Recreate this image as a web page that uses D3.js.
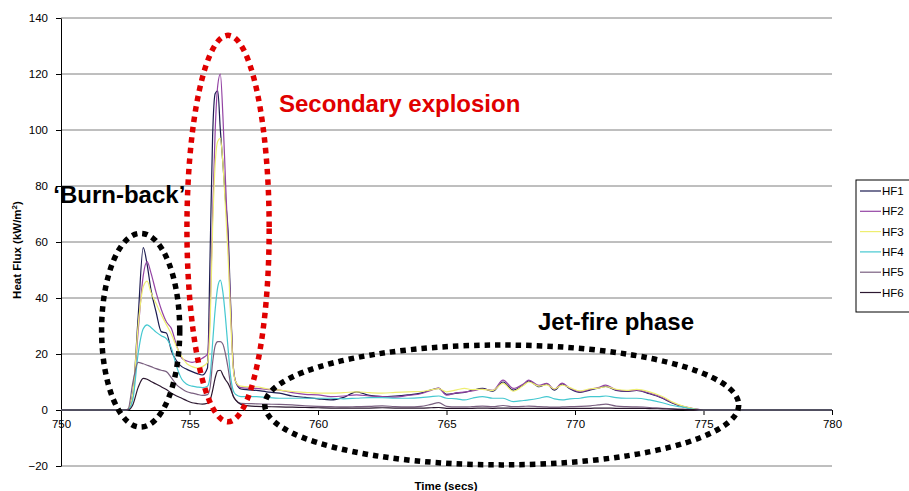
<!DOCTYPE html>
<html>
<head>
<meta charset="utf-8">
<script src="https://cdn.jsdelivr.net/npm/d3@7"></script>
<style>
  body { margin: 0; background: #fff; }
  svg { display: block; font-family: "Liberation Sans", Arial, sans-serif; }
  .axis text { font-size: 11.5px; fill: #000; }
  .axis path, .axis line { stroke: #000; }
</style>
</head>
<body>
<svg id="chart" width="909" height="491"></svg>
<script>
// time (secs)
const times = [750, 752.4, 752.6, 752.8, 753.0, 753.2, 753.35, 753.5, 753.7, 753.9,
  754.1, 754.3, 754.5, 754.7, 754.9, 755.1, 755.3, 755.5, 755.7, 755.8,
  755.9, 756.0, 756.1, 756.2, 756.3, 756.4, 756.5, 756.6, 756.7, 756.8, 757.0,
  757.3, 757.6, 758.0, 758.5, 759.0, 759.5, 760.0, 760.5, 761.0, 761.5,
  762.0, 762.5, 763.0, 763.5, 764.0, 764.4, 764.7, 765.0, 765.4, 765.7,
  766.0, 766.4, 766.8, 767.2, 767.6, 768.0, 768.2, 768.6, 768.9, 769.2,
  769.5, 769.8, 770.2, 770.6, 770.9, 771.2, 771.6, 772.0, 772.4, 772.9,
  773.4, 773.8, 774.2, 774.6, 775.0, 780];

// heat flux (kW/m2) per gauge
const hf1 = [0, 0, 0.2, 6, 33, 58, 52, 43, 35, 28,
  27.5, 21, 17.5, 15.5, 14.5, 13.7, 13, 12.5, 15, 55,
  98, 113, 114, 100, 88, 75, 64, 38, 16, 10, 7.5,
  7.2, 7, 6.5, 6, 5, 4.5, 4, 3.6, 4.5, 6.5,
  5.2, 4.8, 5, 5.4, 6, 7.2, 7.7, 5.6, 6, 6.3,
  7, 7.7, 6.7, 10, 7.1, 9, 10.4, 8.3, 9.3, 7.1,
  9.3, 7.6, 6.3, 7.2, 7.8, 8.4, 7, 6.6, 7, 5.8,
  4.2, 2.4, 1.2, 0.4, 0, 0];
const hf2 = [0, 0, 0.2, 5, 28, 48, 53, 49, 42, 36,
  31.5, 29, 23, 18.5, 17.5, 17, 17.5, 18.5, 20, 35,
  70, 100, 116, 120, 105, 82, 60, 36, 16, 10, 8,
  7.8, 7.7, 7.4, 7.1, 6.2, 5.6, 5.4, 4.8, 5, 5.4,
  5, 4.8, 4.6, 5.2, 5.8, 7, 7.8, 5.3, 6.2, 6.4,
  6.8, 7.5, 7, 10.7, 7.7, 9.4, 10.7, 8.8, 9.5, 7.4,
  9.6, 7.8, 6.5, 7.4, 8, 8.9, 7.2, 6.8, 7.1, 6,
  4.4, 2.6, 1.3, 0.5, 0, 0];
const hf3 = [0, 0, 0.2, 6, 30, 44, 46, 42, 38, 34,
  30.5, 27, 22.5, 19, 16.5, 15.5, 15, 15.5, 17, 30,
  65, 88, 96, 97, 88, 72, 55, 33, 15, 10, 8.5,
  8.3, 8.3, 7.6, 7.1, 6.6, 6.3, 6, 6, 6.2, 6.5,
  6.2, 6, 6.3, 6.5, 6.6, 7.2, 7.6, 6.5, 7.2, 7.7,
  7.3, 7.4, 7, 9.5, 6.7, 8.8, 10, 8.5, 9, 7.5,
  8.9, 8, 6.8, 7.6, 7.8, 8.3, 7.4, 7, 7.4, 6.5,
  4.8, 2.8, 1.4, 0.5, 0, 0];
const hf4 = [0, 0, 0.1, 4, 20, 29, 30.4, 29.5, 27.8, 26.5,
  25.5, 22, 15.5, 11, 9.2, 8.5, 8.2, 8, 8.5, 12,
  24, 36, 44, 46.4, 42, 33, 22, 12, 7, 5.5, 4.8,
  4.8, 4.8, 4.5, 4.2, 4.2, 4.2, 4.2, 4.2, 4, 4.2,
  4.4, 4.4, 4.2, 4.2, 4.4, 4.8, 5, 4.2, 4, 3.6,
  4.2, 4.8, 4.2, 4.2, 3, 3.4, 3.6, 4.2, 4.8, 4,
  3.6, 4, 4.2, 4.8, 4.8, 5, 4.4, 4.2, 4.2, 3.6,
  2.6, 1.6, 1, 0.3, 0, 0];
const hf5 = [0, 0, 0.1, 10, 17, 16.5, 16, 15.5, 14.8, 14.2,
  13.7, 11.5, 9, 7.6, 6.5, 6, 5.6, 5.2, 5.5, 8,
  17, 23, 24.4, 24.4, 23.5, 20, 15, 9, 5, 3.5, 2.4,
  2.3, 2.2, 2.1, 2, 1.8, 1.5, 1.3, 1.2, 1.1, 1.2,
  1.3, 1.5, 1.2, 1.1, 1.3, 2, 2.6, 1.3, 1.1, 1.1,
  1.2, 1.4, 1.2, 1.6, 1.2, 1.3, 1.4, 1.2, 1.1, 1,
  1.1, 1.2, 1.3, 1.5, 1.8, 2.1, 1.4, 1.2, 1.1, 0.9,
  0.6, 0.4, 0.2, 0.1, 0, 0];
const hf6 = [0, 0, 0, 2, 8, 11.3, 11, 10.2, 9.3, 8.3,
  7.3, 6, 5, 4.2, 3.3, 2.6, 2.3, 2.1, 2.4, 3.5,
  7, 11.5, 14, 14.2, 12.5, 10.8, 9.5, 7.5, 5, 3.5, 2,
  1.5, 1.3, 1.2, 1.1, 1, 0.9, 0.8, 0.7, 0.7, 0.7,
  0.7, 0.8, 0.7, 0.7, 0.7, 0.8, 0.9, 0.6, 0.6, 0.6,
  0.6, 0.7, 0.6, 0.7, 0.6, 0.6, 0.6, 0.6, 0.6, 0.6,
  0.6, 0.6, 0.6, 0.6, 0.7, 0.7, 0.6, 0.6, 0.6, 0.5,
  0.4, 0.3, 0.2, 0.1, 0, 0];

const seriesNames = ["HF1", "HF2", "HF3", "HF4", "HF5", "HF6"];
const seriesValues = [hf1, hf2, hf3, hf4, hf5, hf6];
const seriesColors = ["#1c1c50", "#9444a4", "#eeee70", "#44c8d0", "#7a6080", "#2c1830"];

const xTicks = [750, 755, 760, 765, 770, 775, 780];
const yTicks = [-20, 0, 20, 40, 60, 80, 100, 120, 140];

// annotations: text, position in data units
const notes = [
  { text: "Secondary explosion", t: 758.48, v: 106.4, color: "#e00000" },
  { text: "\u2018Burn-back\u2019", t: 749.7, v: 73.8, color: "#000" },
  { text: "Jet-fire phase", t: 768.56, v: 28.6, color: "#000" }
];
// dotted ellipses around each phase: centre (t, v) and radii (secs, kW/m2)
const rings = [
  { t: 753.1, v: 28.5, rt: 1.52, rv: 34.6, color: "#000" },
  { t: 756.5, v: 64.8, rt: 1.6, rv: 69, color: "#e00000" },
  { t: 767.15, v: 1.8, rt: 9.22, rv: 21.4, color: "#000" }
];

const svg = d3.select("#chart");
const x = d3.scaleLinear().domain([750, 780]).range([61, 832]);
const y = d3.scaleLinear().domain([-20, 140]).range([466, 18]);

// gridlines
svg.append("g")
  .selectAll("line")
  .data(yTicks.filter(d => d !== 0))
  .join("line")
  .attr("x1", x(750)).attr("x2", x(780))
  .attr("y1", d => y(d)).attr("y2", d => y(d))
  .attr("stroke", "#7f7f7f").attr("stroke-width", 1);

// axes
svg.append("g")
  .attr("class", "axis")
  .attr("transform", `translate(${x(750)},0)`)
  .call(d3.axisLeft(y).tickValues(yTicks).tickSize(5).tickSizeOuter(0).tickPadding(8));

svg.append("g")
  .attr("class", "axis")
  .attr("transform", `translate(0,${y(0)})`)
  .call(d3.axisBottom(x).tickValues(xTicks).tickSize(5).tickSizeOuter(0).tickPadding(5));

// series lines
const line = d3.line()
  .x((d, i) => x(times[i]))
  .y(d => y(d))
  .curve(d3.curveMonotoneX);

svg.append("g")
  .selectAll("path")
  .data(seriesValues)
  .join("path")
  .attr("fill", "none")
  .attr("stroke", (d, i) => seriesColors[i])
  .attr("stroke-width", 1.2)
  .attr("d", line);

// axis titles
svg.append("text")
  .attr("transform", "translate(21,250) rotate(-90)")
  .attr("text-anchor", "middle")
  .attr("font-size", 11.5).attr("font-weight", "bold")
  .html("Heat Flux (kW/m<tspan dy='-4' font-size='8'>2</tspan><tspan dy='4'>)</tspan>");

svg.append("text")
  .attr("x", 446).attr("y", 490)
  .attr("text-anchor", "middle")
  .attr("font-size", 11.5).attr("font-weight", "bold")
  .text("Time (secs)");

// legend
const legend = svg.append("g").attr("transform", "translate(856,180)");
legend.append("rect")
  .attr("width", 60).attr("height", 132)
  .attr("fill", "#fff").attr("stroke", "#000").attr("stroke-width", 1);
const item = legend.selectAll("g.item")
  .data(seriesNames)
  .join("g")
  .attr("class", "item")
  .attr("transform", (d, i) => `translate(0,${11 + i * 20.3})`);
item.append("line")
  .attr("x1", 4).attr("x2", 25)
  .attr("stroke", (d, i) => seriesColors[i]).attr("stroke-width", 1.2);
item.append("text")
  .attr("x", 26).attr("y", 4)
  .attr("font-size", 11.5)
  .text(d => d);

// dotted ellipses
svg.append("g")
  .selectAll("ellipse")
  .data(rings)
  .join("ellipse")
  .attr("cx", d => x(d.t)).attr("cy", d => y(d.v))
  .attr("rx", d => x(d.t + d.rt) - x(d.t))
  .attr("ry", d => y(d.v - d.rv) - y(d.v))
  .attr("fill", "none")
  .attr("stroke", d => d.color)
  .attr("stroke-width", 5.5)
  .attr("stroke-dasharray", "5.5 5");

// annotations
svg.append("g")
  .selectAll("text")
  .data(notes)
  .join("text")
  .attr("x", d => x(d.t)).attr("y", d => y(d.v))
  .attr("font-size", 24).attr("font-weight", "bold")
  .attr("fill", d => d.color)
  .text(d => d.text);
</script>
</body>
</html>
